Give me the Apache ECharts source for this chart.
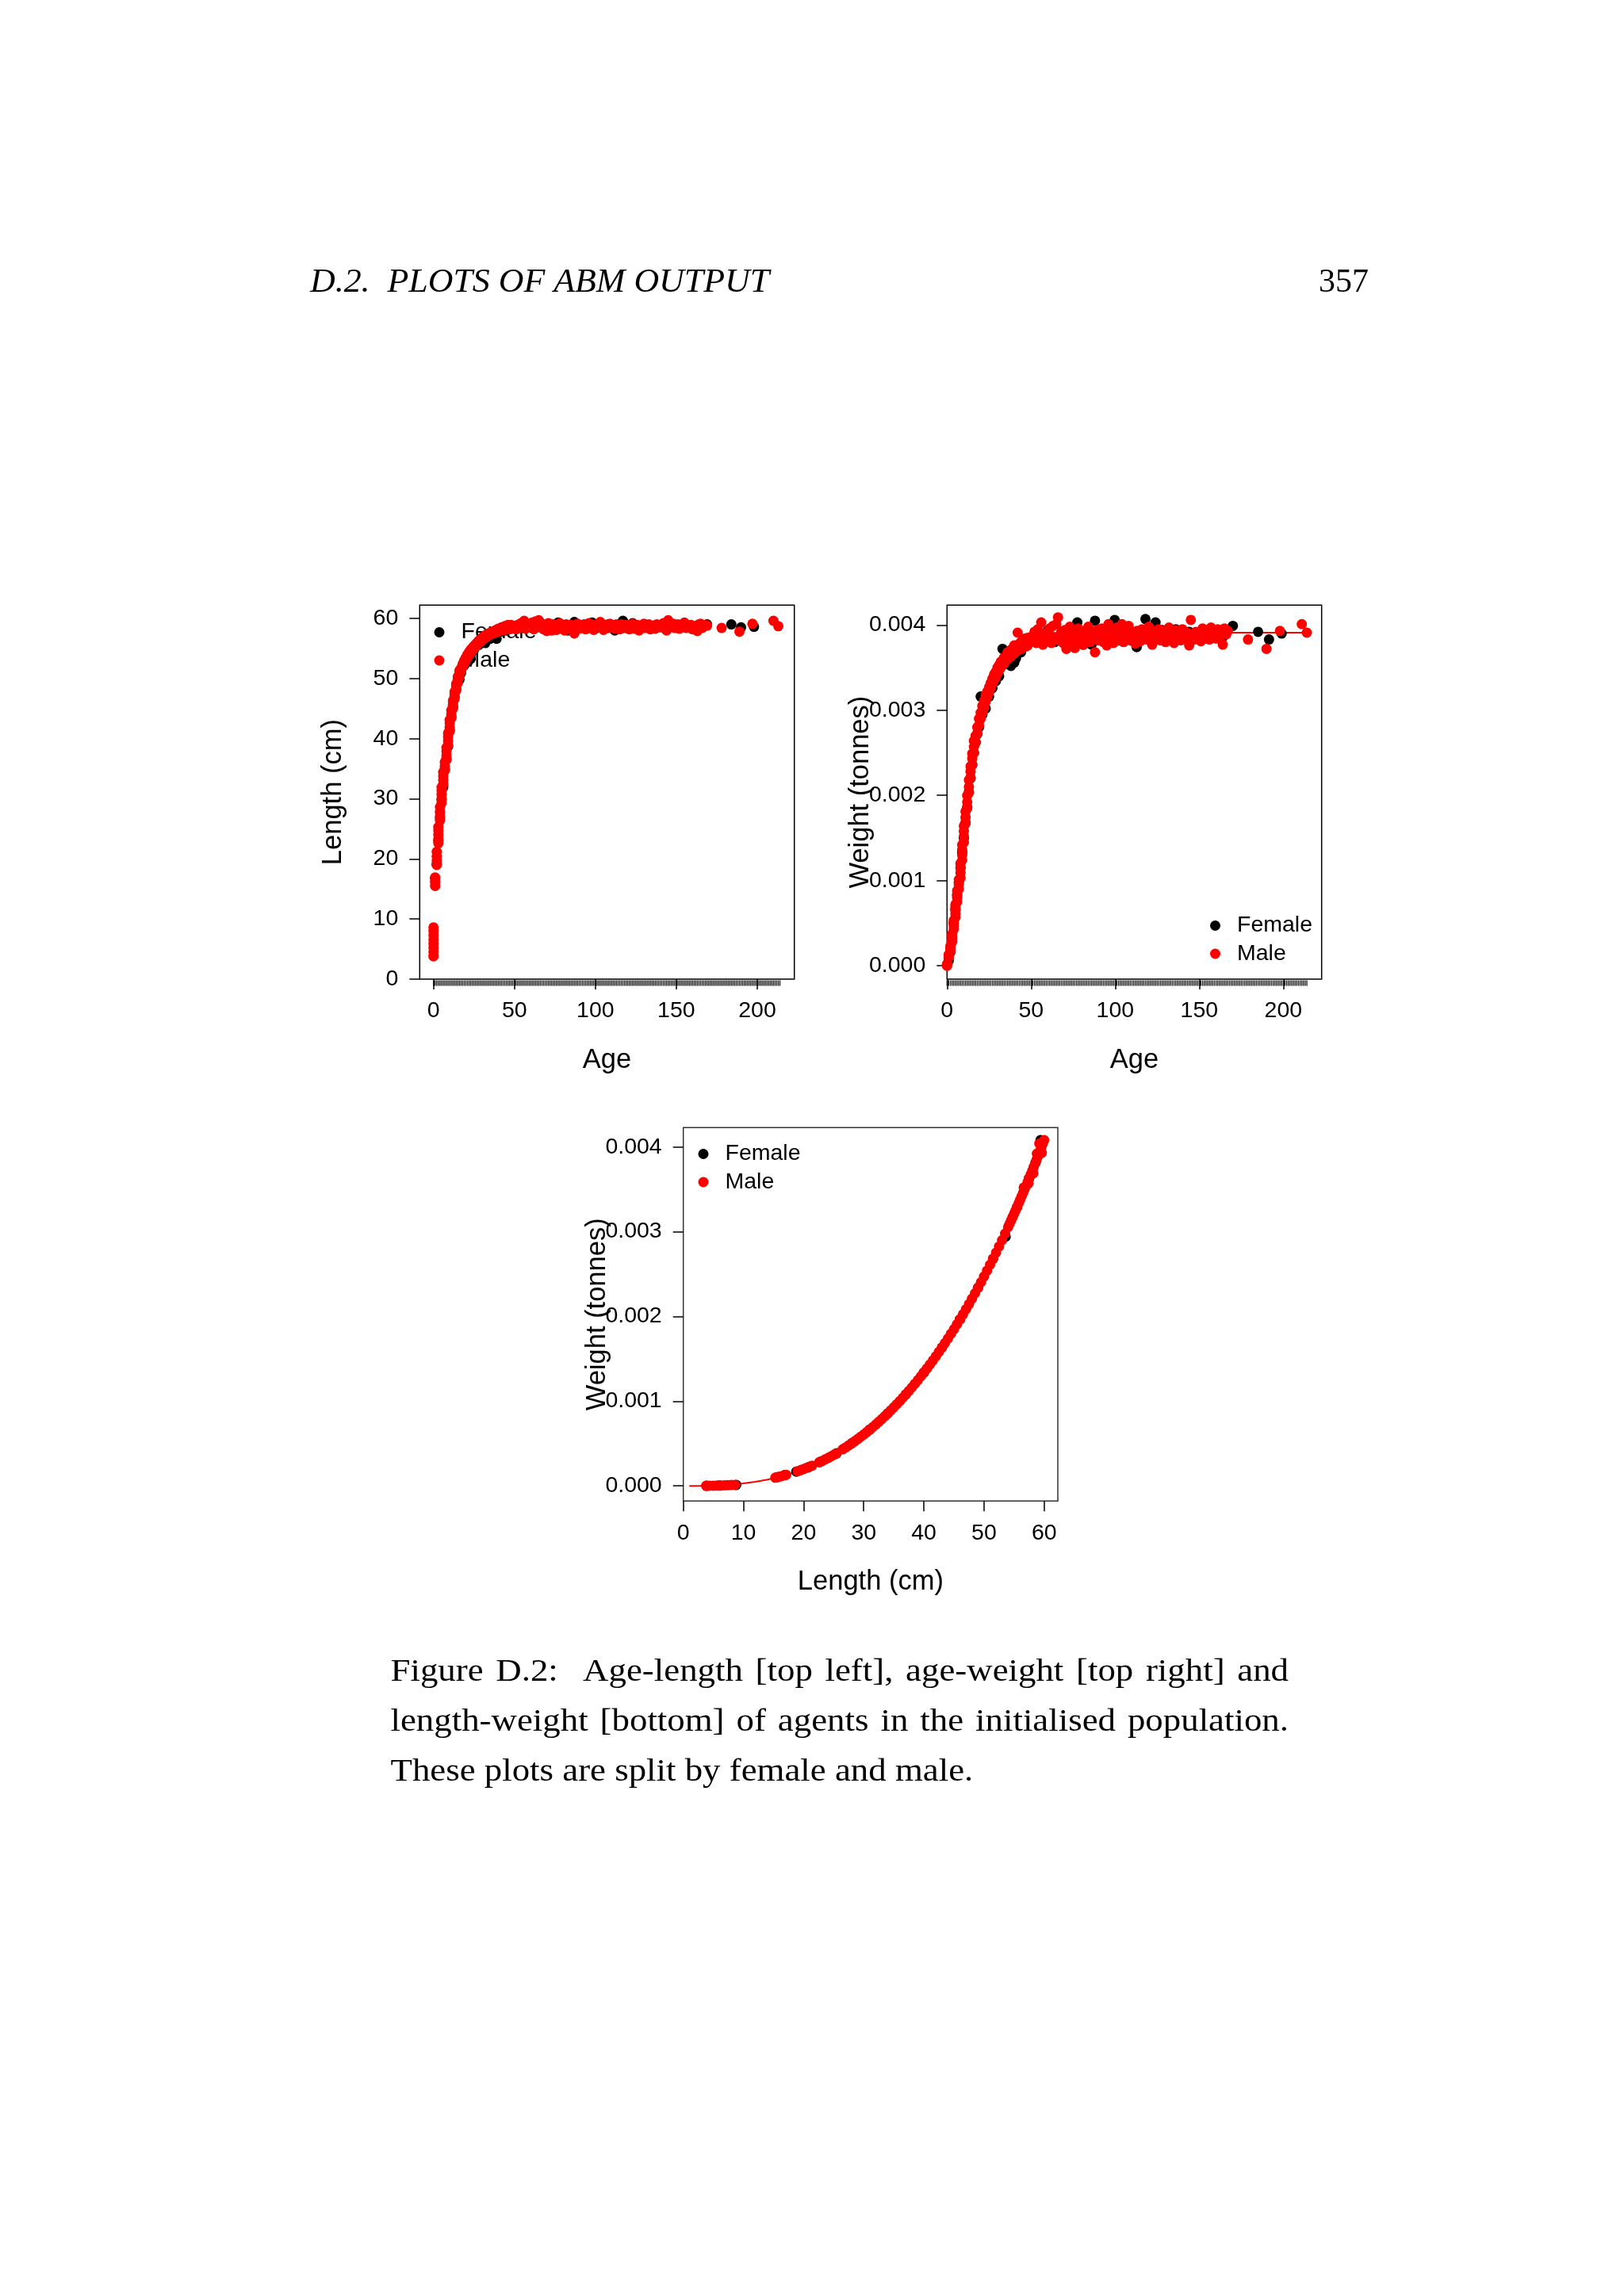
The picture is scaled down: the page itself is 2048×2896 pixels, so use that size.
<!DOCTYPE html>
<html>
<head>
<meta charset="utf-8">
<title>Figure D.2</title>
<script src="https://cdn.jsdelivr.net/npm/echarts@6.0.0/dist/echarts.min.js"></script>
<style>
  html, body { margin: 0; padding: 0; background: #fff; }
  #chart { width: 2048px; height: 2896px; }
</style>
</head>
<body>
<div id="chart"></div>
<script>
// tick labels
const ageTicks = [0, 50, 100, 150, 200];
const lenTicks = [0, 10, 20, 30, 40, 50, 60];
const wtTicks = [0, 0.001, 0.002, 0.003, 0.004];

// top left: age vs length (cm)
const ageLenFemale = [
  [1,16.8],[2,19.1],[3,23.0],[4,26.8],[5,29.8],[6,31.9],[7,34.9],[8,36.6],[9,38.7],[10,41.4],
  [11,43.6],[12,45.2],[13,46.9],[14,48.2],[15,49.4],[16,49.8],[17,50.9],[19,52.2],[21,53.3],
  [23,53.3],[25,54.8],[28,55.6],[31,56.0],[32,55.9],[35,56.6],[39,56.6],[42,57.8],[45,58.0],[48,58.3],
  [52,58.8],[56,58.4],[60,59.0],[64,58.6],[68,58.9],[72,58.4],[77,59.3],[81,58.2],[83,58.0],[87,59.4],
  [90,58.7],[94,58.9],[98,59.3],[100,58.3],[104,58.8],[108,59.0],[112,58.0],[117,59.6],[120,58.7],
  [123,59.2],[127,58.5],[131,58.9],[135,58.6],[139,58.8],[143,58.4],[147,58.9],[151,58.4],[155,58.7],
  [159,58.6],[163,58.8],[166,58.5],[169,59.0],[184,59.0],[190,58.5],[198,58.6]
];
const ageLenMale = [
  [0,3.8],[0,4.5],[0,5.2],[0,5.9],[0,6.6],[0,7.3],[0,8.0],[0,8.6],
  [1,15.5],[1,16.2],[1,16.9],
  [2,19.0],[2,19.7],[2,20.4],[2,21.2],
  [3,22.6],[3,23.3],[3,24.0],[3,24.7],[3,25.3],
  [4,26.4],[4,27.1],[4,27.8],[4,28.6],
  [5,29.3],[5,30.0],[5,30.7],[5,31.4],[5,31.9],
  [6,32.4],[6,33.1],[6,33.8],[6,34.4],
  [7,34.7],[7,35.4],[7,36.1],
  [8,36.5],[8,37.2],[8,37.9],[8,38.5],
  [9,38.9],[9,39.6],[9,40.3],[9,40.9],
  [10,41.2],[10,41.9],[10,42.6],[10,43.1],
  [11,43.4],[11,44.0],[11,44.7],
  [12,45.0],[12,45.6],[12,46.3],
  [13,46.6],[13,47.2],[13,47.8],
  [14,48.0],[14,48.6],[14,49.1],
  [15,49.3],[15,49.8],[15,50.3],
  [16,50.3],[16,50.8],[16,51.3],
  [17,51.2],[17,51.7],[18,51.9],[18,52.4],[19,52.5],[19,53.0],[20,53.0],[20,53.5],
  [21,53.5],[21,54.0],[22,53.9],[22,54.4],[23,54.3],[23,54.8],[24,54.7],[24,55.1],
  [25,55.0],[25,55.4],[26,55.3],[26,55.7],[27,55.6],[27,56.0],[28,55.9],[28,56.3],
  [29,56.1],[29,56.5],[30,56.4],[30,56.8],[31,56.6],[31,57.0],[32,56.8],[32,57.2],
  [33,57.0],[34,57.1],[34,57.5],[35,57.4],[36,57.4],[36,57.8],[37,57.7],[38,57.6],[38,58.0],[39,58.1],
  [40,57.8],[40,58.3],[41,58.2],[42,58.0],[42,58.5],[43,58.4],[44,58.1],[44,58.7],[45,58.6],
  [46,58.2],[46,58.9],[47,58.5],[48,58.3],[48,58.9],[49,58.7],
  [50,58.6],[51,58.2],[52,58.9],[53,58.4],[54,59.2],[55,58.7],[56,59.6],[57,58.3],[58,59.0],[59,58.5],
  [60,58.6],[61,59.3],[62,58.2],[63,59.5],[64,58.8],[65,59.7],[66,58.5],[67,59.1],[68,58.2],[69,58.9],
  [70,57.9],[71,59.2],[72,58.5],[73,58.0],[74,59.0],[75,58.4],[76,58.1],[77,58.8],[78,59.2],[79,58.3],
  [80,58.7],[81,58.0],[82,59.0],[83,58.4],[84,58.5],[85,58.9],[86,58.2],[87,57.5],[88,58.6],[89,59.1],
  [90,58.3],[91,58.8],[92,58.5],[93,59.0],[94,58.2],[95,58.7],[96,59.2],[97,58.4],[98,58.9],[99,58.1],
  [100,58.5],[101,59.0],[103,59.4],[104,58.6],[105,58.1],[106,58.9],[107,58.4],[108,58.4],[109,59.1],
  [110,58.8],[111,58.5],[112,58.3],[113,59.0],[114,58.7],[115,58.2],[116,59.0],[117,58.6],[118,58.4],
  [119,58.9],[121,58.2],[122,58.7],[123,59.1],[124,58.3],[125,58.6],[126,58.9],[127,58.0],[128,58.5],
  [129,58.8],[130,59.1],[131,58.4],[132,58.6],[133,59.0],[134,58.2],[135,58.7],[136,58.8],[137,58.3],
  [138,59.0],[139,58.6],[140,58.5],[141,58.9],[142,59.2],[143,58.3],[144,58.0],[145,59.7],[146,58.6],
  [147,58.8],[148,59.1],[149,58.4],[150,58.7],[151,59.0],[152,58.3],[153,58.6],[154,58.9],[155,59.3],
  [156,58.4],[157,58.5],[158,58.8],[159,58.9],[160,58.2],[161,58.3],[162,58.7],[163,57.9],[164,59.0],
  [165,59.1],[166,58.4],[167,58.7],[168,58.9],[169,58.8],
  [178,58.4],[189,57.8],[197,59.1],[210,59.6],[213,58.7]
];

// top right: age vs weight (tonnes)
const ageWtFemale = [
  [1,0.00006],[2,0.00016],[3,0.00032],[4,0.0005],[5,0.00066],[6,0.00083],[7,0.00098],[8,0.00115],
  [9,0.00133],[10,0.0015],[11,0.00168],[12,0.00186],[13,0.00204],[14,0.0022],[15,0.00236],[16,0.0025],
  [17,0.00262],[18,0.00272],[19,0.0028],[20,0.00316],[21,0.00295],[23,0.00302],[25,0.00316],[27,0.00326],
  [29,0.00334],[31,0.0034],[33,0.00372],[35,0.00354],[38,0.00352],[40,0.00356],[41,0.00361],[44,0.00368],
  [47,0.00375],
  [52,0.00389],[56,0.00383],[60,0.00394],[64,0.0038],[68,0.00391],[72,0.00386],[77.5,0.00403],[81,0.00377],
  [84,0.00379],[86,0.00377],[88,0.00405],[91,0.00386],[95,0.0039],[99.7,0.00406],[102,0.00382],[106,0.00395],
  [110,0.00389],[112.8,0.00374],[116,0.00392],[118,0.00407],[121,0.00386],[124,0.00403],[128,0.00394],
  [132,0.00388],[136,0.00395],[140,0.00386],[144,0.00392],[148,0.00387],[153,0.00384],[156,0.00392],
  [160,0.0039],[164,0.00386],[170,0.00399],[185,0.00392],[191.5,0.00383],[199,0.0039]
];
const ageWtMale = [
  [0,0.0],[0,0.00001],[0,0.00002],
  [1,0.0001],[1,0.00011],[1,0.00013],
  [2,0.00017],[2,0.00019],[2,0.00021],[2,0.00023],
  [3,0.00028],[3,0.00031],[3,0.00034],[3,0.00037],
  [4,0.00043],[4,0.00047],[4,0.0005],[4,0.00053],
  [5,0.00057],[5,0.00061],[5,0.00065],[5,0.00069],[5,0.00072],
  [6,0.00075],[6,0.0008],[6,0.00084],[6,0.00088],
  [7,0.0009],[7,0.00095],[7,0.00101],
  [8,0.00103],[8,0.00109],[8,0.00115],[8,0.0012],
  [9,0.00124],[9,0.0013],[9,0.00136],[9,0.00142],
  [10,0.00145],[10,0.00152],[10,0.00158],[10,0.00164],
  [11,0.00167],[11,0.00174],[11,0.00181],
  [12,0.00185],[12,0.00192],[12,0.002],
  [13,0.00203],[13,0.0021],[13,0.00218],
  [14,0.00221],[14,0.00228],[14,0.00234],
  [15,0.00236],[15,0.00243],[15,0.00249],
  [16,0.0025],[16,0.00257],[16,0.00264],
  [17,0.00263],[17,0.0027],[18,0.00273],[18,0.0028],[19,0.00282],[19,0.0029],[20,0.0029],[20,0.00297],
  [21,0.00297],[21,0.00305],[22,0.00303],[22,0.00311],[23,0.0031],[23,0.00318],[24,0.00316],[24,0.00322],
  [25,0.00321],[25,0.00327],[26,0.00326],[26,0.00332],[27,0.00331],[27,0.00337],[28,0.00335],[28,0.00342],
  [29,0.00339],[29,0.00345],[30,0.00343],[30,0.0035],[31,0.00347],[31,0.00353],[32,0.0035],[32,0.00357],
  [33,0.00353],[34,0.00355],[34,0.00362],[35,0.00359],[36,0.0036],[36,0.00368],[37,0.00366],[38,0.00363],
  [38,0.00371],[39,0.0037],[40,0.00367],[40,0.00376],[41,0.00373],[42,0.0037],[42,0.00391],[43,0.00378],
  [44,0.00372],[44,0.0038],[45,0.00379],[46,0.00374],[46,0.00384],[47,0.00381],[48,0.00376],[48,0.00385],
  [49,0.00383],
  [50,0.00386],[51,0.00381],[52,0.00392],[53,0.00379],[54,0.00395],[55,0.00385],[56,0.00403],[57,0.00377],
  [58,0.0039],[59,0.00383],[60,0.00388],[61,0.00396],[62,0.00379],[63,0.00399],[64,0.00386],[65,0.00401],
  [66,0.00409],[67,0.00382],[68,0.00392],[69,0.00379],[70,0.00394],[71,0.00372],[72,0.00387],[73,0.00398],
  [74,0.0038],[75,0.00391],[76,0.00373],[77,0.00386],[78,0.00396],[79,0.00381],[80,0.00389],[81,0.00377],
  [82,0.00393],[83,0.00384],[84,0.00398],[85,0.0038],[86,0.00391],[87,0.00385],[88,0.00368],[89,0.00394],
  [90,0.00382],[91,0.00389],[92,0.00396],[93,0.0038],[94,0.00387],[95,0.00376],[96,0.00401],[97,0.00385],
  [98,0.00392],[99,0.00379],[100,0.0039],[101,0.00397],[102,0.00383],[103,0.00388],[104,0.00401],[105,0.0038],
  [106,0.00394],[107,0.00386],[108,0.00399],[109,0.00382],[110,0.00391],[111,0.00385],[112,0.00378],
  [113,0.00393],[114,0.00388],[115,0.00381],[116,0.00395],[117,0.00386],[118,0.0039],[119,0.00383],
  [120,0.00398],[121,0.00387],[122,0.00377],[123,0.00392],[124,0.00384],[125,0.00389],[126,0.00395],
  [127,0.00382],[128,0.00388],[129,0.00393],[130,0.0038],[131,0.00386],[132,0.00397],[133,0.00384],
  [134,0.0039],[135,0.00379],[136,0.00394],[137,0.00386],[138,0.00389],[139,0.00382],[140,0.00395],
  [141,0.00388],[142,0.00384],[143,0.00391],[144,0.00376],[145,0.00406],[146,0.00389],[147,0.00383],
  [148,0.00392],[149,0.00387],[150,0.0039],[151,0.00381],[152,0.00396],[153,0.00385],[154,0.00389],
  [155,0.00393],[156,0.00383],[157,0.00397],[158,0.00388],[159,0.00391],[160,0.00384],[161,0.00395],
  [162,0.00386],[163,0.0039],[164,0.00377],[165,0.00396],[166,0.00389],[167,0.00393],
  [179,0.00383],[190,0.00372],[198,0.00393],[211,0.00401],[214,0.00391]
];
const ageWtFit = [
  [0,0.00001],[4,0.00048],[8,0.00112],[12,0.00192],[16,0.00257],[20,0.00294],[25,0.00324],[30,0.00347],
  [40,0.00372],[50,0.00383],[75,0.0039],[100,0.00391],[150,0.00391],[214,0.00391]
];

// bottom: length (cm) vs weight (tonnes)
const lenWtFemale = [
  [3.9,0.000001],[6.0,0.000003],[8.8,0.000012],[15.5,0.0001],[16.9,0.000128],[18.8,0.000168],
  [20.8,0.00022],[22.8,0.000285],[25.5,0.000385],[28,0.000502],[31,0.000664],[34,0.000856],[37,0.00108],
  [40,0.001338],[43,0.001632],[46,0.001965],[49,0.002338],[51.5,0.00268],[53.6,0.00294],[55.5,0.00329],
  [57.5,0.00363],[58.6,0.00382],[59.4,0.00408]
];
const lenWtMale = [
  [3.8,0.000001],[4.4,0.000002],[5.0,0.000002],[5.6,0.000003],[6.2,0.000004],[6.8,0.000006],[7.4,0.000008],
  [8.0,0.00001],[8.6,0.000012],
  [15.3,0.000097],[15.8,0.000106],[16.3,0.000115],[16.8,0.000125],[17.1,0.000131],
  [19.0,0.000173],[19.5,0.000186],[20.0,0.000199],[20.5,0.000213],[21.0,0.000227],[21.4,0.000239],
  [22.6,0.000278],[23.1,0.000295],[23.6,0.000313],[24.1,0.000331],[24.6,0.00035],[25.1,0.00037],[25.4,0.00038],
  [26.5,0.000431],[27.0,0.000454],[27.5,0.000478],[28.0,0.000502],[28.5,0.000527],[29.0,0.000553],
  [29.5,0.00058],[30.0,0.000607],[30.5,0.000635],[31.0,0.000664],[31.5,0.000694],[32.0,0.000724],
  [32.5,0.000756],[33.0,0.000788],[33.5,0.000822],[34.0,0.000856],[34.5,0.000891],[35.0,0.000927],
  [35.5,0.000964],[36.0,0.001001],[36.5,0.00104],[37.0,0.00108],[37.5,0.00112],[38.0,0.001162],
  [38.5,0.001205],[39.0,0.001248],[39.5,0.001293],[40.0,0.001338],[40.5,0.001385],[41.0,0.001432],
  [41.5,0.001481],[42.0,0.00153],[42.5,0.001581],[43.0,0.001632],[43.5,0.001685],[44.0,0.001739],
  [44.5,0.001794],[45.0,0.001849],[45.5,0.001907],[46.0,0.001965],[46.5,0.002024],[47.0,0.002084],
  [47.5,0.002146],[48.0,0.002209],[48.5,0.002273],[49.0,0.002338],[49.5,0.002404],[50.0,0.002471],
  [50.5,0.00254],[51.0,0.00261],[51.5,0.002681],[52.0,0.002753],[52.5,0.002826],[53.0,0.0029],
  [53.5,0.002977],[54.0,0.003054],[54.25,0.003093],[54.5,0.003133],[54.75,0.003172],[55.0,0.003212],
  [55.25,0.003252],[55.5,0.003293],[55.75,0.003334],[56.0,0.003375],[56.25,0.003417],[56.5,0.003459],
  [56.75,0.003501],[57.0,0.003543],[57.25,0.003586],[57.5,0.00363],[57.75,0.003673],[58.0,0.003717],
  [58.25,0.003761],[58.5,0.003806],[58.75,0.003851],[59.0,0.003896],[59.25,0.003942],[59.5,0.003988],
  [59.75,0.004034],[60.0,0.00408],
  [56.6,0.00352],[57.4,0.00357],[58.2,0.00369],[58.8,0.00392],[59.6,0.00393],[59.2,0.00404]
];
const lenWtFit = [
  [1,0],[4,0.000001],[8,0.000016],[10,0.00003],[12,0.000049],[14,0.000075],[16,0.000108],[18,0.000149],
  [20,0.000199],[22,0.000259],[24,0.00033],[26,0.000409],[30,0.000607],[35,0.000927],[40,0.001338],
  [45,0.001849],[50,0.002471],[55,0.003212],[60,0.00408]
];

// rug of ages along the bottom of the two age plots
const rugAges = [
  0,1,2,3,4,5,6,7,8,9,10,11,12,13,14,15,16,17,18,19,20,21,22,23,24,25,26,27,28,29,
  30,31,32,33,34,35,36,37,38,39,40,41,42,43,44,45,46,47,48,49,50,51,52,53,54,55,56,57,58,59,
  60,61,62,63,64,65,66,67,68,69,70,71,72,73,74,75,76,77,78,79,80,81,82,83,84,85,86,87,88,89,
  90,91,92,93,94,95,96,97,98,99,100,101,102,103,104,105,106,107,108,109,110,111,112,113,114,
  115,116,117,118,119,120,121,122,123,124,125,126,127,128,129,130,131,132,133,134,135,136,137,
  138,139,140,141,142,143,144,145,146,147,148,149,150,151,152,153,154,155,156,157,158,159,160,
  161,162,163,164,165,166,167,168,169,170,171,172,173,174,175,176,177,178,179,180,181,182,183,
  184,185,186,187,188,189,190,191,192,193,194,195,196,197,198,199,200,201,202,203,204,205,206,
  207,208,209,210,211,212,213,214
];

const captionLines = [
  'Figure D.2:  Age-length [top left], age-weight [top right] and',
  'length-weight [bottom] of agents in the initialised population.',
  'These plots are split by female and male.'
];

const SANS = '"Liberation Sans", Arial, Helvetica, sans-serif';
const RED = '#ff0000';
const W_MIN_TR = -0.000157;

// the book face is wider than Liberation Serif, so words are stretched a little
const CAP_FONT = '39px "Liberation Serif"';
const CAP_STRETCH = 1.15;
const measure = document.createElement('canvas').getContext('2d');
function captionLine(text, y, justify) {
  measure.font = CAP_FONT;
  const left = 492.5, right = 1625;
  const words = text.split(' ');
  const widths = words.map(w => measure.measureText(w).width * CAP_STRETCH);
  const used = widths.reduce((a, b) => a + b, 0);
  const gap = justify ? (right - left - used) / (words.length - 1) : measure.measureText(' ').width * CAP_STRETCH;
  const out = [];
  let x = left;
  words.forEach((w, i) => {
    if (w) {
      out.push({
        type: 'text', x: x, y: y, scaleX: CAP_STRETCH, silent: true,
        style: { text: w, font: CAP_FONT, fill: '#000', verticalAlign: 'middle', textVerticalAlign: 'middle' }
      });
    }
    x += widths[i] + gap;
  });
  return out;
}

function xAxis(grid, min, max, ticks, name) {
  return {
    type: 'value', gridIndex: grid, min: min, max: max,
    name: name, nameLocation: 'middle', nameGap: 85, nameMoveOverlap: false,
    nameTextStyle: { fontFamily: SANS, fontSize: 34.5, color: '#000' },
    axisLine: { show: false, onZero: false },
    splitLine: { show: false },
    axisTick: { customValues: ticks, inside: false, length: 13, lineStyle: { color: '#000', width: 1.5 } },
    axisLabel: { customValues: ticks, margin: 26, fontFamily: SANS, fontSize: 28.5, color: '#000' }
  };
}

function yAxis(grid, min, max, ticks, name, digits) {
  return {
    type: 'value', gridIndex: grid, min: min, max: max,
    name: name, nameLocation: 'middle', nameGap: 91, nameMoveOverlap: false,
    nameTextStyle: { fontFamily: SANS, fontSize: 34.5, color: '#000' },
    axisLine: { show: false, onZero: false },
    splitLine: { show: false },
    axisTick: { customValues: ticks, inside: false, length: 13, lineStyle: { color: '#000', width: 1.5 } },
    axisLabel: {
      customValues: ticks, margin: 27, fontFamily: SANS, fontSize: 28.5, color: '#000',
      formatter: v => v.toFixed(digits)
    }
  };
}

function points(name, data, color, xi) {
  return {
    type: 'scatter', name: name, data: data, xAxisIndex: xi, yAxisIndex: xi,
    symbol: 'circle', symbolSize: 13, clip: false, silent: true,
    itemStyle: { color: color, opacity: 1 }
  };
}

function rug(xi, y) {
  return {
    type: 'scatter', name: 'rug', xAxisIndex: xi, yAxisIndex: xi,
    data: rugAges.map(a => [a, y]),
    symbol: 'rect', symbolSize: [1.2, 7], symbolOffset: [0, 5], clip: false, silent: true,
    itemStyle: { color: '#000', opacity: 1 }
  };
}

function fit(data, xi) {
  return {
    type: 'line', name: 'fit', data: data, xAxisIndex: xi, yAxisIndex: xi,
    showSymbol: false, smooth: false, z: 1, silent: true,
    lineStyle: { color: RED, width: 2 }
  };
}

function legend(left, top) {
  return {
    data: ['Female', 'Male'], orient: 'vertical', left: left, top: top,
    icon: 'circle', itemWidth: 13, itemHeight: 13, itemGap: 6.5, padding: 0,
    selectedMode: false, z: 1,
    textStyle: { fontFamily: SANS, fontSize: 28.5, color: '#000', padding: [0, 0, 0, 16] }
  };
}

const gridBox = { show: true, borderColor: '#000', borderWidth: 1.5, backgroundColor: 'transparent' };

const option = {
  backgroundColor: '#fff',
  animation: false,
  grid: [
    Object.assign({ left: 529.3, top: 763.3, width: 472.4, height: 471.7 }, gridBox),
    Object.assign({ left: 1194.3, top: 763.3, width: 472.4, height: 471.7 }, gridBox),
    Object.assign({ left: 861.7, top: 1422.3, width: 472.3, height: 471 }, gridBox, { borderColor: '#333' })
  ],
  xAxis: [
    xAxis(0, -8.52, 222.9, ageTicks, 'Age'),
    xAxis(1, 0, 222.8, ageTicks, 'Age'),
    xAxis(2, 0, 62.27, lenTicks, 'Length (cm)')
  ],
  yAxis: [
    yAxis(0, 0, 62.2, lenTicks, 'Length (cm)', 0),
    yAxis(1, W_MIN_TR, 0.004233, wtTicks, 'Weight (tonnes)', 3),
    yAxis(2, -0.000179, 0.004228, wtTicks, 'Weight (tonnes)', 3)
  ],
  legend: [legend(547.5, 783), legend(1526, 1153), legend(880.5, 1441)],
  series: [
    points('Female', ageLenFemale, '#000', 0),
    points('Male', ageLenMale, RED, 0),
    rug(0, 0),
    fit(ageWtFit, 1),
    points('Female', ageWtFemale, '#000', 1),
    points('Male', ageWtMale, RED, 1),
    rug(1, W_MIN_TR),
    fit(lenWtFit, 2),
    points('Female', lenWtFemale, '#000', 2),
    points('Male', lenWtMale, RED, 2)
  ],
  graphic: [
    {
      type: 'text', x: 391, y: 357, scaleX: 1.045, silent: true,
      style: { text: 'D.2.  PLOTS OF ABM OUTPUT', font: 'italic 42px "Liberation Serif"', fill: '#000',
               verticalAlign: 'middle', textVerticalAlign: 'middle' }
    },
    {
      type: 'text', x: 1726, y: 357, silent: true,
      style: { text: '357', font: '42px "Liberation Serif"', fill: '#000', align: 'right', textAlign: 'right',
               verticalAlign: 'middle', textVerticalAlign: 'middle' }
    }
  ].concat(
    captionLine(captionLines[0], 2109.5, true),
    captionLine(captionLines[1], 2173, true),
    captionLine(captionLines[2], 2236, false)
  )
};

const chart = echarts.init(document.getElementById('chart'), null, { renderer: 'canvas' });
chart.setOption(option);
</script>
</body>
</html>
